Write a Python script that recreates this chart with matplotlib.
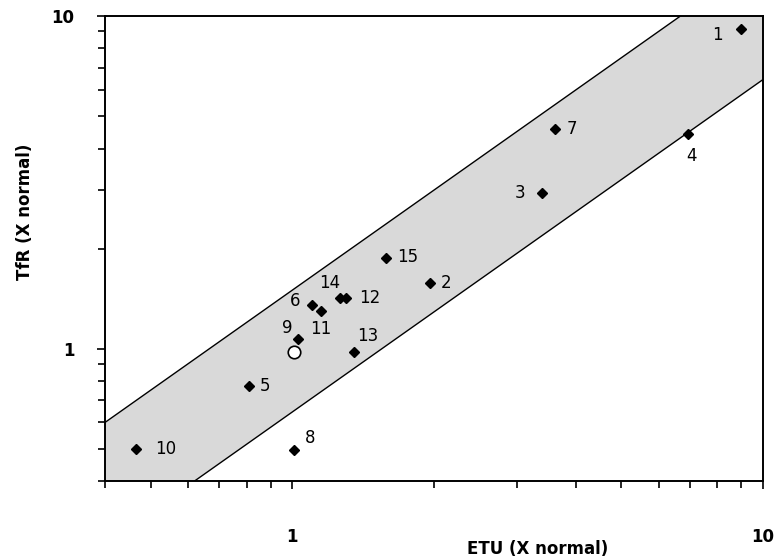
import matplotlib
matplotlib.use('Agg')
import matplotlib.pyplot as plt
import numpy as np

# patient values (ETU and TfR, x normal)
labels = ['1', '2', '3', '4', '5', '6', '7', '8', '9', '10', '11', '12', '13', '14', '15']
etu = [9.0, 1.96, 3.40, 6.92, 0.81, 1.10, 3.61, 1.01, 1.03, 0.465, 1.15, 1.30, 1.35, 1.265, 1.58]
tfr = [9.14, 1.58, 2.94, 4.41, 0.77, 1.35, 4.57, 0.495, 1.07, 0.50, 1.30, 1.42, 0.98, 1.42, 1.87]
# label offsets in pixels (dx, dy)
label_off = [(-24, -6), (16, 0), (-22, 0), (4, -22), (16, 0), (-17, 4), (17, 0), (16, 12),
             (-11, 11), (30, 0), (0, -18), (24, 0), (14, 16), (-11, 15), (22, 1)]

# normal control
ctrl_x = [1.01]
ctrl_y = [0.98]

# band limits (ratio TfR/ETU)
band_hi = 1.5
band_lo = 1 / 1.55

fig = plt.figure(figsize=(7.83, 5.6), dpi=100)
ax = fig.add_axes([0.134, 0.141, 0.8405, 0.830])
ax.set_xscale('log')
ax.set_yscale('log')
ax.set_xlim(0.4, 10)
ax.set_ylim(0.4, 10)

xx = np.logspace(np.log10(0.3), np.log10(12), 200)
ax.fill_between(xx, xx * band_lo, xx * band_hi, color='#d9d9d9', lw=0, zorder=1)
ax.plot(xx, xx * band_hi, color='black', lw=1, zorder=2)
ax.plot(xx, xx * band_lo, color='black', lw=1, zorder=2)

ax.plot(etu, tfr, 'D', color='black', markersize=5.5, zorder=3)
ax.plot(ctrl_x, ctrl_y, 'o', mfc='white', mec='black', mew=1.2, markersize=9, zorder=3)

for lab, x, y, off in zip(labels, etu, tfr, label_off):
    ax.annotate(lab, (x, y), xytext=off, textcoords='offset pixels',
                ha='center', va='center', fontsize=12, zorder=4)

for s in ax.spines.values():
    s.set_linewidth(1.4)

ax.set_xticks([1, 10])
ax.set_yticks([1, 10])
ax.set_xticklabels(['1', '10'], fontweight='bold', fontsize=12)
ax.set_yticklabels(['1', '10'], fontweight='bold', fontsize=12)
ax.xaxis.set_minor_locator(matplotlib.ticker.LogLocator(base=10, subs=np.arange(2, 10)))
ax.yaxis.set_minor_locator(matplotlib.ticker.LogLocator(base=10, subs=np.arange(2, 10)))
ax.xaxis.set_minor_formatter(matplotlib.ticker.NullFormatter())
ax.yaxis.set_minor_formatter(matplotlib.ticker.NullFormatter())
ax.tick_params(which='both', direction='out', width=1.2, top=False, right=False)
ax.tick_params(which='major', length=6)
ax.tick_params(which='minor', length=5)
ax.tick_params(axis='x', which='major', pad=28)
ax.tick_params(axis='y', which='major', pad=16)

ax.set_xlabel('ETU (X normal)', fontweight='bold', fontsize=12)
ax.xaxis.set_label_coords(0.658, -0.127)
ax.set_ylabel('TfR (X normal)', fontweight='bold', fontsize=12)
ax.yaxis.set_label_coords(-0.108, 0.58)

fig.savefig('out.png', dpi=100)
